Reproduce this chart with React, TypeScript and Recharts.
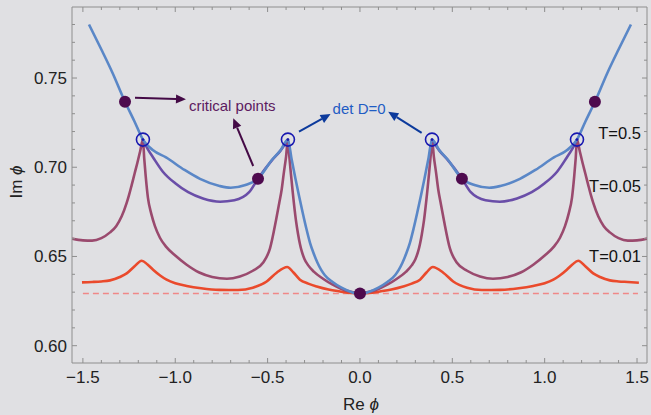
import React from 'react';
import {
  ComposedChart,
  Line,
  Scatter,
  XAxis,
  YAxis,
  ReferenceLine,
  ReferenceDot,
  Label,
} from 'recharts';

// Im phi vs Re phi
const BLUE_PTS = [
  [-1.467, 0.78], [-1.4, 0.766], [-1.34, 0.753], [-1.272, 0.7367], [-1.22, 0.7255], [-1.175, 0.7155],
  [-1.12, 0.7095], [-1.05, 0.7055], [-0.95, 0.6985], [-0.866, 0.6935], [-0.76, 0.6895], [-0.7, 0.6885],
  [-0.62, 0.69], [-0.552, 0.6936], [-0.476, 0.7042], [-0.43, 0.7095], [-0.39, 0.7155],
  [-0.37, 0.7045], [-0.35, 0.694], [-0.33, 0.684], [-0.31, 0.6745], [-0.29, 0.6655], [-0.27, 0.6575],
  [-0.25, 0.6515], [-0.23, 0.6465], [-0.21, 0.6425], [-0.19, 0.6395], [-0.15, 0.6358], [-0.1, 0.6325],
  [-0.05, 0.6302], [0, 0.629],
  [0.05, 0.6302], [0.1, 0.6325], [0.15, 0.6358], [0.19, 0.6395], [0.21, 0.6425], [0.23, 0.6465],
  [0.25, 0.6515], [0.27, 0.6575], [0.29, 0.6655], [0.31, 0.6745], [0.33, 0.684], [0.35, 0.694],
  [0.37, 0.7045], [0.39, 0.7155],
  [0.43, 0.7095], [0.476, 0.7042], [0.552, 0.6936], [0.62, 0.69], [0.7, 0.6885], [0.76, 0.6895],
  [0.866, 0.6935], [0.95, 0.6985], [1.05, 0.7055], [1.12, 0.7095], [1.175, 0.7155],
  [1.22, 0.7255], [1.272, 0.7367], [1.34, 0.753], [1.4, 0.766], [1.467, 0.78],
];

const PURPLE_LEFT = [
  [-1.175, 0.7155], [-1.148, 0.71], [-1.12, 0.7055], [-1.067, 0.6975], [-1.0, 0.691], [-0.93, 0.686],
  [-0.85, 0.6825], [-0.757, 0.6807], [-0.68, 0.6815], [-0.6, 0.686], [-0.552, 0.6936],
  [-0.476, 0.704], [-0.43, 0.7093], [-0.39, 0.7155],
];
const PURPLE_RIGHT = [
  [0.39, 0.7155], [0.43, 0.7093], [0.476, 0.704], [0.552, 0.6936], [0.6, 0.686], [0.68, 0.6815],
  [0.757, 0.6807], [0.85, 0.6825], [0.93, 0.686], [1.0, 0.691], [1.067, 0.6975], [1.12, 0.7055],
  [1.148, 0.71], [1.175, 0.7155],
];

const MAUVE_PTS = [
  [-1.559, 0.66], [-1.5, 0.659], [-1.45, 0.6589], [-1.4, 0.6603], [-1.353, 0.6635], [-1.32, 0.667],
  [-1.29, 0.6725], [-1.263, 0.68], [-1.25, 0.6845], [-1.236, 0.69], [-1.22, 0.6965], [-1.205, 0.7025],
  [-1.19, 0.709], [-1.175, 0.7155],
  [-1.168, 0.705], [-1.16, 0.695], [-1.148, 0.683], [-1.13, 0.674], [-1.11, 0.667], [-1.083, 0.6605],
  [-1.05, 0.6555], [-1.0, 0.6505], [-0.94, 0.6455], [-0.87, 0.641], [-0.8, 0.6385], [-0.72, 0.6375],
  [-0.65, 0.6388], [-0.58, 0.642], [-0.525, 0.6465], [-0.487, 0.6545], [-0.455, 0.67], [-0.437, 0.68],
  [-0.424, 0.6874], [-0.412, 0.697], [-0.4, 0.706], [-0.39, 0.7155],
  [-0.383, 0.7068], [-0.375, 0.6975], [-0.364, 0.686], [-0.347, 0.6705], [-0.335, 0.6625], [-0.325, 0.657],
  [-0.315, 0.6528], [-0.3, 0.6485], [-0.28, 0.645], [-0.25, 0.6415], [-0.2, 0.6375], [-0.15, 0.6343],
  [-0.1, 0.6318], [-0.05, 0.6302], [0, 0.6295],
  [0.05, 0.6302], [0.1, 0.6318], [0.15, 0.6343], [0.2, 0.6375], [0.25, 0.6415], [0.28, 0.645],
  [0.3, 0.6485], [0.315, 0.6528], [0.325, 0.657], [0.335, 0.6625], [0.347, 0.6705], [0.364, 0.686],
  [0.375, 0.6975], [0.383, 0.7068], [0.39, 0.7155],
  [0.4, 0.706], [0.412, 0.697], [0.424, 0.6874], [0.437, 0.68], [0.455, 0.67], [0.487, 0.6545],
  [0.525, 0.6465], [0.58, 0.642], [0.65, 0.6388], [0.72, 0.6375], [0.8, 0.6385], [0.87, 0.641],
  [0.94, 0.6455], [1.0, 0.6505], [1.05, 0.6555], [1.083, 0.6605], [1.11, 0.667], [1.13, 0.674],
  [1.148, 0.683], [1.16, 0.695], [1.168, 0.705], [1.175, 0.7155],
  [1.19, 0.709], [1.205, 0.7025], [1.22, 0.6965], [1.236, 0.69], [1.25, 0.6845], [1.263, 0.68],
  [1.29, 0.6725], [1.32, 0.667], [1.353, 0.6635], [1.4, 0.6603], [1.45, 0.6589], [1.5, 0.659], [1.554, 0.66],
];

const RED_PTS = [
  [-1.505, 0.6355], [-1.45, 0.6357], [-1.4, 0.636], [-1.353, 0.6366], [-1.3, 0.6385], [-1.263, 0.6405],
  [-1.22, 0.6445], [-1.182, 0.6476], [-1.15, 0.6455], [-1.12, 0.6426], [-1.08, 0.6392], [-1.047, 0.637],
  [-1.0, 0.635], [-0.938, 0.6335], [-0.86, 0.6322], [-0.76, 0.6313], [-0.66, 0.6312], [-0.58, 0.6325],
  [-0.505, 0.636], [-0.451, 0.6409], [-0.394, 0.6441], [-0.36, 0.641], [-0.325, 0.637], [-0.28, 0.6348],
  [-0.234, 0.6332], [-0.17, 0.6315], [-0.108, 0.6304], [-0.05, 0.6295], [0, 0.6293],
  [0.05, 0.6295], [0.108, 0.6304], [0.17, 0.6315], [0.234, 0.6332], [0.28, 0.6348], [0.325, 0.637],
  [0.36, 0.641], [0.394, 0.6441], [0.451, 0.6409], [0.505, 0.636], [0.58, 0.6325], [0.66, 0.6312],
  [0.76, 0.6313], [0.86, 0.6322], [0.938, 0.6335], [1.0, 0.635], [1.047, 0.637], [1.08, 0.6392],
  [1.12, 0.6426], [1.15, 0.6455], [1.182, 0.6476], [1.22, 0.6445], [1.263, 0.6405], [1.3, 0.6385],
  [1.353, 0.6366], [1.4, 0.636], [1.45, 0.6357], [1.51, 0.6353],
];

const ZERO_T_PTS = [[-1.5, 0.6293], [1.505, 0.6293]];

const CRITICAL_PTS = [[-1.272, 0.7367], [-0.552, 0.6936], [0, 0.6292], [0.552, 0.6936], [1.272, 0.7367]];
const DETD_PTS = [[-1.175, 0.7155], [-0.39, 0.7155], [0.39, 0.7155], [1.175, 0.7155]];

const X_MAJOR = [-1.5, -1.0, -0.5, 0.0, 0.5, 1.0, 1.5];
const X_MINOR = [
  -1.4, -1.3, -1.2, -1.1, -0.9, -0.8, -0.7, -0.6, -0.4, -0.3, -0.2, -0.1,
  0.1, 0.2, 0.3, 0.4, 0.6, 0.7, 0.8, 0.9, 1.1, 1.2, 1.3, 1.4,
];
const Y_MAJOR = [0.6, 0.65, 0.7, 0.75];
const Y_MINOR = [
  0.61, 0.62, 0.63, 0.64, 0.66, 0.67, 0.68, 0.69, 0.71, 0.72, 0.73, 0.74, 0.76, 0.77, 0.78,
];

const T_LABELS = ['T=0.5', 'T=0.05', 'T=0.01'];
const T_LABEL_Y = [0.7158, 0.686, 0.6468];

const X_DOMAIN: [number, number] = [-1.559, 1.554];
const Y_DOMAIN: [number, number] = [0.5903, 0.7898];

// layout
const W = 651;
const H = 415;
const LEFT = 72;
const RIGHT = 647;
const TOP = 7;
const BOTTOM = 363;
const FONT = '"Liberation Sans", Arial, Helvetica, sans-serif';
const FRAME = '#8e8e8e';
const BG = '#e0e0e3';

const toPts = (pairs: number[][]) => pairs.map(([x, y]) => ({ x, y }));
const minus = (s: string) => s.replace('-', '\u2212');

const XTick = (props: any) => {
  const { x, payload } = props;
  const v = payload.value as number;
  const major = X_MAJOR.some((m) => Math.abs(m - v) < 1e-6);
  const len = major ? 5 : 3;
  return (
    <g>
      <line x1={x} x2={x} y1={BOTTOM} y2={BOTTOM - len} stroke={FRAME} />
      <line x1={x} x2={x} y1={TOP} y2={TOP + len} stroke={FRAME} />
      {major && (
        <text x={x} y={383} textAnchor="middle" fontSize={17} fontFamily={FONT} fill="#222">
          {minus(v.toFixed(1))}
        </text>
      )}
    </g>
  );
};

const YTick = (props: any) => {
  const { y, payload } = props;
  const v = payload.value as number;
  const major = Y_MAJOR.some((m) => Math.abs(m - v) < 1e-6);
  const len = major ? 5 : 3;
  return (
    <g>
      <line x1={LEFT} x2={LEFT + len} y1={y} y2={y} stroke={FRAME} />
      <line x1={RIGHT} x2={RIGHT - len} y1={y} y2={y} stroke={FRAME} />
      {major && (
        <text x={67} y={y + 6} textAnchor="end" fontSize={17} fontFamily={FONT} fill="#222">
          {v.toFixed(2)}
        </text>
      )}
    </g>
  );
};

const arrowShape = (color: string) => (p: any) => {
  const { x1, y1, x2, y2 } = p;
  const ang = Math.atan2(y2 - y1, x2 - x1);
  const L = 10;
  const Wd = 4.5;
  const bx = x2 - L * Math.cos(ang);
  const by = y2 - L * Math.sin(ang);
  const nx = -Math.sin(ang) * Wd;
  const ny = Math.cos(ang) * Wd;
  return (
    <g>
      <line x1={x1} y1={y1} x2={bx} y2={by} stroke={color} strokeWidth={2} />
      <polygon points={`${x2},${y2} ${bx + nx},${by + ny} ${bx - nx},${by - ny}`} fill={color} />
    </g>
  );
};

const textShape = (txt: string, color: string, size: number, anchor: string) => (p: any) => (
  <text x={p.cx} y={p.cy} fill={color} fontSize={size} fontFamily={FONT} textAnchor={anchor}>
    {txt}
  </text>
);

const critShape = (p: any) => <circle cx={p.cx} cy={p.cy} r={6} fill="#4e0a4e" />;
const detShape = (p: any) => (
  <g>
    <circle cx={p.cx} cy={p.cy} r={6.5} fill="none" stroke="#1818b0" strokeWidth={1.6} />
    <circle cx={p.cx} cy={p.cy} r={1.4} fill="#1818b0" />
  </g>
);

const CRIT_TEXT = '#5c1a60';
const CRIT_ARROW = '#440a46';
const DET_TEXT = '#1f5cc4';
const DET_ARROW = '#0c3a9c';

export default function App() {
  return (
    <div style={{ position: 'absolute', left: 0, top: 0, width: W, height: H, background: BG }}>
      <ComposedChart width={W} height={H} margin={{ top: TOP, right: W - RIGHT, bottom: 0, left: 0 }}>
        <XAxis
          dataKey="x"
          type="number"
          domain={X_DOMAIN}
          allowDataOverflow
          ticks={[...X_MAJOR, ...X_MINOR]}
          interval={0}
          tick={<XTick />}
          tickLine={false}
          axisLine={{ stroke: FRAME }}
          height={H - BOTTOM}
        >
          <Label
            content={() => (
              <text x={361} y={410} textAnchor="middle" fontSize={17} fontFamily={FONT} fill="#222">
                Re <tspan fontStyle="italic">ϕ</tspan>
              </text>
            )}
          />
        </XAxis>
        <YAxis
          dataKey="y"
          type="number"
          domain={Y_DOMAIN}
          allowDataOverflow
          ticks={[...Y_MAJOR, ...Y_MINOR]}
          interval={0}
          tick={<YTick />}
          tickLine={false}
          axisLine={{ stroke: FRAME }}
          width={LEFT}
        >
          <Label
            content={() => (
              <text
                x={22}
                y={182}
                transform="rotate(-90 22 182)"
                textAnchor="middle"
                fontSize={17}
                fontFamily={FONT}
                fill="#222"
              >
                Im <tspan fontStyle="italic">ϕ</tspan>
              </text>
            )}
          />
        </YAxis>
        <ReferenceLine y={Y_DOMAIN[1]} stroke={FRAME} />
        <ReferenceLine x={X_DOMAIN[1]} stroke={FRAME} />

        <Line data={toPts(ZERO_T_PTS)} dataKey="y" type="linear" stroke="#f08888" strokeWidth={1.5}
          strokeDasharray="6 4" dot={false} activeDot={false} isAnimationActive={false} />
        <Line data={toPts(RED_PTS)} dataKey="y" type="monotone" stroke="#ea4a2c" strokeWidth={2.6}
          dot={false} activeDot={false} isAnimationActive={false} />
        <Line data={toPts(MAUVE_PTS)} dataKey="y" type="monotone" stroke="#9a4a6e" strokeWidth={2.6}
          dot={false} activeDot={false} isAnimationActive={false} />
        <Line data={toPts(PURPLE_LEFT)} dataKey="y" type="monotone" stroke="#6a4ea8" strokeWidth={2.6}
          dot={false} activeDot={false} isAnimationActive={false} />
        <Line data={toPts(PURPLE_RIGHT)} dataKey="y" type="monotone" stroke="#6a4ea8" strokeWidth={2.6}
          dot={false} activeDot={false} isAnimationActive={false} />
        <Line data={toPts(BLUE_PTS)} dataKey="y" type="monotone" stroke="#5a87c7" strokeWidth={2.6}
          dot={false} activeDot={false} isAnimationActive={false} />

        <Scatter data={toPts(DETD_PTS)} dataKey="y" shape={detShape} isAnimationActive={false} />
        <Scatter data={toPts(CRITICAL_PTS)} dataKey="y" shape={critShape} isAnimationActive={false} />

        <ReferenceLine segment={[{ x: -1.218, y: 0.739 }, { x: -0.942, y: 0.7381 }]} shape={arrowShape(CRIT_ARROW)} />
        <ReferenceLine segment={[{ x: -0.578, y: 0.7007 }, { x: -0.686, y: 0.7274 }]} shape={arrowShape(CRIT_ARROW)} />
        <ReferenceLine segment={[{ x: -0.33, y: 0.7199 }, { x: -0.159, y: 0.7298 }]} shape={arrowShape(DET_ARROW)} />
        <ReferenceLine segment={[{ x: 0.334, y: 0.7193 }, { x: 0.153, y: 0.7311 }]} shape={arrowShape(DET_ARROW)} />

        <ReferenceDot x={-0.926} y={0.7315} r={0} shape={textShape('critical points', CRIT_TEXT, 15, 'start')} />
        <ReferenceDot x={-0.148} y={0.7298} r={0} shape={textShape('det D=0', DET_TEXT, 15, 'start')} />
        {T_LABELS.map((t, i) => (
          <ReferenceDot key={t} x={1.521} y={T_LABEL_Y[i]} r={0} shape={textShape(t, '#111', 16.5, 'end')} />
        ))}
      </ComposedChart>
    </div>
  );
}
